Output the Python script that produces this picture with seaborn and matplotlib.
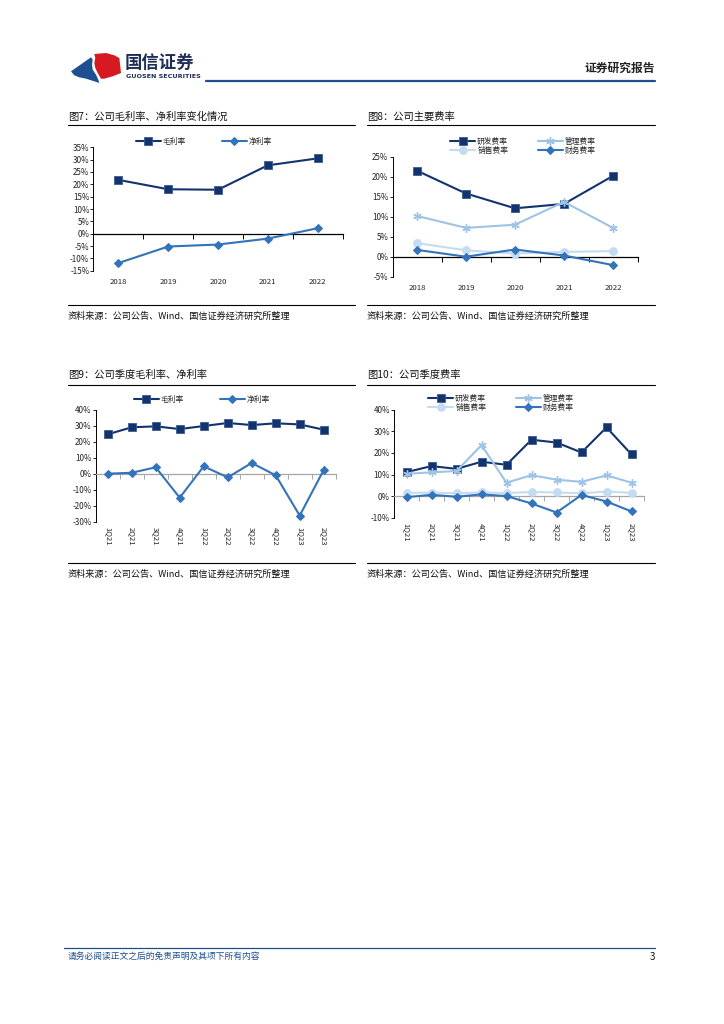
import numpy as np
import pandas as pd
import matplotlib
matplotlib.use("Agg")
import matplotlib.pyplot as plt
import seaborn as sns
from matplotlib.patches import Polygon
from matplotlib.ticker import FuncFormatter, FixedLocator

# Datos (en %)
anios = ['2018', '2019', '2020', '2021', '2022']
maoli_anual = [21.8, 18.0, 17.8, 27.7, 30.5]
jingli_anual = [-11.9, -5.2, -4.4, -2.0, 2.2]

yanfa_anual = [21.5, 15.8, 12.1, 13.2, 20.2]
guanli_anual = [10.2, 7.2, 8.0, 13.7, 7.2]
xiaoshou_anual = [3.4, 1.6, 0.8, 1.2, 1.4]
caiwu_anual = [1.7, 0.0, 1.8, 0.3, -2.1]

trimestres = ['1Q21', '2Q21', '3Q21', '4Q21', '1Q22', '2Q22', '3Q22', '4Q22', '1Q23', '2Q23']
maoli_trim = [24.6, 29.0, 29.6, 27.9, 29.8, 31.7, 30.4, 31.5, 30.8, 27.5]
jingli_trim = [0.0, 0.6, 4.0, -15.0, 4.6, -2.3, 6.7, -1.0, -26.2, 2.3]

yanfa_trim = [11.1, 13.9, 12.6, 15.9, 14.5, 26.1, 24.8, 20.2, 31.8, 19.3]
guanli_trim = [10.3, 11.0, 11.6, 23.6, 6.2, 9.7, 7.6, 6.6, 9.6, 6.2]
xiaoshou_trim = [1.5, 1.6, 1.3, 1.7, 1.4, 1.9, 1.7, 1.3, 2.1, 1.5]
caiwu_trim = [-0.5, 0.6, -0.3, 0.8, 0.0, -3.4, -7.6, 0.5, -2.5, -7.1]

sns.set_theme(style='white')
plt.rcParams['font.family'] = ['Noto Sans CJK SC', 'DejaVu Sans']
plt.rcParams['axes.unicode_minus'] = False

W, H = 724, 1024
AZUL_OSCURO = '#12336E'
AZUL_MEDIO = '#3373B9'
AZUL_CLARO = '#9DC3E6'
AZUL_PALIDO = '#C4DBF0'

est_maoli = dict(color=AZUL_OSCURO, marker='s', markersize=5.5, linewidth=1.5,
                 markeredgecolor='#3B5B92', markeredgewidth=0.6)
est_jingli = dict(color=AZUL_MEDIO, marker='D', markersize=3.8, linewidth=1.5,
                  markeredgecolor=AZUL_MEDIO)
est_yanfa = est_maoli
est_guanli = dict(color=AZUL_CLARO, marker=(6, 2, 0), markersize=6, linewidth=1.5,
                  markeredgecolor=AZUL_CLARO, markeredgewidth=1.0)
est_xiaoshou = dict(color=AZUL_PALIDO, marker='o', markersize=5.5, linewidth=1.5,
                    markeredgecolor=AZUL_PALIDO)
est_caiwu = est_jingli


def caja(izq, arriba, der, abajo):
    return [izq / W, 1 - abajo / H, (der - izq) / W, (abajo - arriba) / H]


def dibujar_lineas(fig, pos, categorias, series, ylim, paso, color_cero, rotar,
                   ley_centro, ley_col, ley_ncol):
    ax = fig.add_axes(caja(*pos))
    x = np.arange(len(categorias))
    for nombre, valores, estilo in series:
        df = pd.DataFrame({'x': x, 'y': valores})
        sns.lineplot(data=df, x='x', y='y', ax=ax, label=nombre, sort=False,
                     zorder=3, clip_on=False, **estilo)

    ax.set_xlim(-0.5, len(categorias) - 0.5)
    ax.set_ylim(*ylim)
    ax.set_xlabel('')
    ax.set_ylabel('')
    ax.patch.set_alpha(0)
    for s in ['top', 'right']:
        ax.spines[s].set_visible(False)
    ax.spines['left'].set_color('black')
    ax.spines['left'].set_linewidth(0.7)
    ax.spines['bottom'].set_position(('data', 0))
    ax.spines['bottom'].set_color(color_cero)
    ax.spines['bottom'].set_linewidth(0.9)

    ax.set_yticks(np.arange(ylim[0], ylim[1] + 0.1, paso))
    ax.yaxis.set_major_formatter(FuncFormatter(lambda v, p: f"{v:.0f}%"))
    ax.tick_params(axis='y', left=True, length=2, width=0.6, color='black',
                   labelsize=5.8, pad=1, labelcolor='#222222')
    ax.set_xticks(x)
    ax.tick_params(axis='x', which='major', length=0, labelbottom=False)
    ax.xaxis.set_minor_locator(FixedLocator(x + 0.5))
    ax.tick_params(axis='x', which='minor', bottom=True, length=3.5, width=0.7,
                   color=color_cero, direction='out')

    sec = ax.secondary_xaxis(0)
    sec.set_xticks(x, labels=categorias)
    sec.spines['bottom'].set_visible(False)
    if rotar:
        sec.tick_params(length=0, labelsize=5.5, pad=4, labelrotation=270,
                        labelcolor='#222222')
    else:
        sec.tick_params(length=0, labelsize=5.6, pad=5.5, labelcolor='#222222')

    handles, labels = ax.get_legend_handles_labels()
    if ley_ncol == 2 and len(handles) == 4:
        orden = [0, 2, 1, 3]
        handles = [handles[i] for i in orden]
        labels = [labels[i] for i in orden]
    ax.legend(handles, labels, loc='center', ncol=ley_ncol,
              bbox_to_anchor=(ley_centro[0] / W, 1 - ley_centro[1] / H),
              bbox_transform=fig.transFigure, frameon=False, fontsize=5.6,
              handlelength=3.2, handletextpad=0.25, columnspacing=ley_col,
              labelspacing=0.12, borderpad=0, borderaxespad=0, numpoints=1)
    return ax


fig = plt.figure(figsize=(W / 100, H / 100), dpi=100)
fondo = fig.add_axes([0, 0, 1, 1])
fondo.set_xlim(0, W)
fondo.set_ylim(H, 0)
fondo.axis('off')

# Encabezado: logotipo
fondo.add_patch(Polygon([(71, 71.3), (91, 57.3), (92.7, 59.7), (92, 64.7), (92.7, 69.7),
                         (96, 74.7), (98.3, 79.7), (99.3, 83), (94.3, 81.3), (86, 78.7),
                         (79.3, 77.3), (74.3, 75.3)],
                        closed=True, color='#1D4F91', lw=0))
fondo.add_patch(Polygon([(94.3, 54), (106, 53), (114.3, 55.3), (119.3, 58), (120.3, 66.3),
                         (121, 73), (112.7, 76.3), (104.3, 78.7), (101, 78.7), (97.7, 73),
                         (95.3, 68), (94.3, 63), (95.3, 58)],
                        closed=True, color='#D71A21', lw=0))
fondo.text(125, 63, '国信证券', fontsize=12.5, fontweight='bold', color='#1E2E55',
           ha='left', va='center')
fondo.text(126, 76.5, 'GUOSEN SECURITIES', fontsize=4.6, fontweight='bold',
           color='#1E2E55', ha='left', va='center', family=['DejaVu Sans'])
fondo.plot([206, 655], [81, 81], color='#1F4E8C', lw=1.6)
fondo.text(655, 68, '证券研究报告', fontsize=8.5, fontweight='bold', color='#222222',
           ha='right', va='center')

# Títulos, líneas y fuentes de cada panel
paneles = [
    (68, 355, 117, 125, 305, 316, '图7：公司毛利率、净利率变化情况'),
    (367, 655, 117, 125, 305, 316, '图8：公司主要费率'),
    (68, 355, 375, 385, 563, 574, '图9：公司季度毛利率、净利率'),
    (367, 655, 375, 385, 563, 574, '图10：公司季度费率'),
]
fuente = '资料来源：公司公告、Wind、国信证券经济研究所整理'
for x0, x1, yt, yl, ys, ytx, titulo in paneles:
    fondo.text(x0, yt, titulo, fontsize=7.4, color='#111111', ha='left', va='center')
    fondo.plot([x0, x1], [yl, yl], color='black', lw=0.8)
    fondo.plot([x0, x1], [ys, ys], color='black', lw=0.8)
    fondo.text(x0, ytx, fuente, fontsize=6.6, color='#111111', ha='left', va='center')

# Pie de página
fondo.plot([64, 655], [948, 948], color='#1F4E8C', lw=0.9)
fondo.text(68, 956, '请务必阅读正文之后的免责声明及其项下所有内容', fontsize=6.3,
           color='#1F4E8C', style='italic', ha='left', va='center')
fondo.text(655, 957, '3', fontsize=7, color='#111111', ha='right', va='center')

# Gráficos
dibujar_lineas(fig, (93.5, 147.3, 342.5, 270.7), anios,
               [('毛利率', maoli_anual, est_maoli), ('净利率', jingli_anual, est_jingli)],
               (-15, 35), 5, 'black', False, (204, 141.7), 4.6, 2)

dibujar_lineas(fig, (392.5, 156.7, 637.5, 276.7), anios,
               [('研发费率', yanfa_anual, est_yanfa), ('管理费率', guanli_anual, est_guanli),
                ('销售费率', xiaoshou_anual, est_xiaoshou), ('财务费率', caiwu_anual, est_caiwu)],
               (-5, 25), 5, 'black', False, (523, 146.5), 3.8, 2)

dibujar_lineas(fig, (95.7, 409.7, 335.7, 521.7), trimestres,
               [('毛利率', maoli_trim, est_maoli), ('净利率', jingli_trim, est_jingli)],
               (-30, 40), 10, '#A6A6A6', True, (202, 400), 4.6, 2)

dibujar_lineas(fig, (394, 409.7, 644, 517.7), trimestres,
               [('研发费率', yanfa_trim, est_yanfa), ('管理费率', guanli_trim, est_guanli),
                ('销售费率', xiaoshou_trim, est_xiaoshou), ('财务费率', caiwu_trim, est_caiwu)],
               (-10, 40), 10, '#A6A6A6', True, (501, 403.7), 3.8, 2)

fig.savefig('out.png', dpi=100, facecolor='white')
